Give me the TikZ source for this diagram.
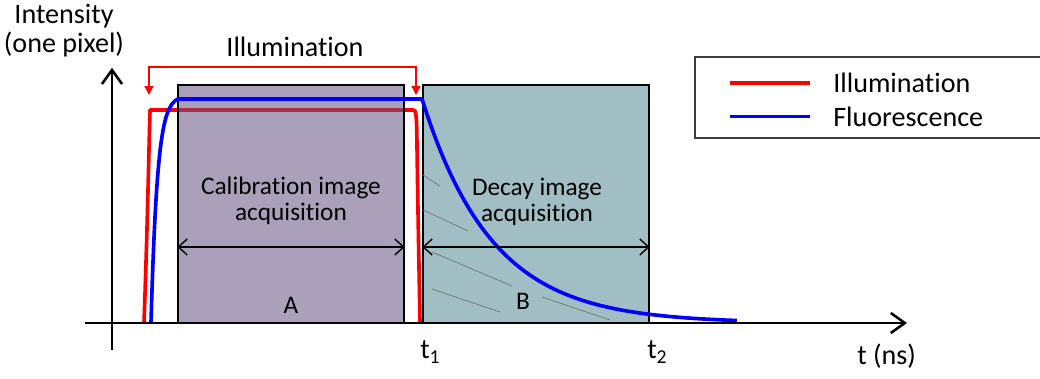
\documentclass[tikz,border=0pt]{standalone}
\usepackage{fontspec}
\setmainfont{Carlito}[Ligatures=NoCommon]
\usetikzlibrary{arrows.meta}
\definecolor{calibfill}{RGB}{102,82,128}
\definecolor{decayfill}{RGB}{161,190,196}
\definecolor{illumred}{RGB}{255,0,0}
\definecolor{fluoblue}{RGB}{0,0,255}
\definecolor{legframe}{RGB}{60,60,60}
\begin{document}
\begin{tikzpicture}[font=\fontsize{20}{19}\selectfont,
        acq/.style={draw=black, line width=0.9pt, minimum width=5.65cm,
                    minimum height=5.95cm, inner sep=0pt},
        illum/.style={draw=illumred, line width=2.6pt, line join=round},
        fluo/.style={draw=fluoblue, line width=2.6pt, line join=round},
        axis/.style={line width=1.8pt, -{Straight Barb[length=0.35cm,width=0.5cm]}},
        dim/.style={line width=1pt, {Straight Barb[length=0.22cm,width=0.4cm]}-{Straight Barb[length=0.22cm,width=0.4cm]}},
        bracket/.style={draw=illumred, line width=0.9pt, {Triangle[length=0.22cm,width=0.22cm]}-{Triangle[length=0.22cm,width=0.22cm]}},
        hatch/.style={draw=black!55, line width=0.5pt},
        lbl/.style={inner sep=0pt, align=center},
        boxlbl/.style={lbl, font=\fontsize{18}{18.5}\selectfont}]
      \useasboundingbox (0,0) rectangle (26,9.475);
      % Illumination (sous la fenetre A)
      \draw[illum] (3.6,1.4) .. controls (3.68,3.6) and (3.72,5.6) .. (3.75,6.725)
            -- (10.33,6.725) .. controls (10.4,6.725) and (10.41,6.6) .. (10.42,6.2)
            .. controls (10.45,4) and (10.48,2.6) .. (10.5,1.4);
      % Fenetres d'acquisition
      \node[acq, fill=calibfill, fill opacity=0.55] (calib) at (7.275,4.375) {};
      \node[acq, fill=decayfill] (decay) at (13.4,4.375) {};
      % Hachures
      \draw[hatch] (10.575,5.1) -- (11.0,4.825);
      \draw[hatch] (10.575,4.225) -- (11.7,3.7);
      \draw[hatch] (10.8,3.175) -- (12.8,2.325);
      \draw[hatch] (10.8,2.25) -- (12.5,1.675);
      \draw[hatch] (13.55,2.05) -- (15.25,1.475);
      % Fluorescence
      \draw[fluo] plot[domain=3.775:4.45, samples=30]
            (\x,{1.4+5.684*(1-exp(-(\x-3.775)/0.16))})
            -- (10.55,7.0)
            -- plot[domain=10.55:18.425, samples=80]
            (\x,{1.4+5.6*exp(-(\x-10.55)/1.75)});
      % Axes
      \coordinate (xstart) at (2.125,1.4);
      \coordinate (xend)   at (22.675,1.4);
      \coordinate (ystart) at (2.8,0.725);
      \coordinate (yend)   at (2.8,7.78);
      \draw[axis] (xstart) -- (xend);
      \draw[axis] (ystart) -- (yend);
      % Fleches de duree
      \foreach \n in {calib,decay}
        \draw[dim] ([yshift=-1.075cm]\n.west) -- ([yshift=-1.075cm]\n.east);
      % Labels
      \node[boxlbl] (calibtxt) at (7.275,4.45) {Calibration image\\acquisition};
      \node[boxlbl] (decaytxt) at (13.425,4.43) {Decay image\\acquisition};
      \node[boxlbl] (labA) at (7.275,1.85) {A};
      \node[boxlbl] (labB) at (13.075,1.95) {B};
      \node[lbl, font=\fontsize{20}{20.6}\selectfont] (ylabel) at (1.6,8.7)
            {Intensity\\(one pixel)};
      \node[lbl, anchor=base west] (t1) at (10.5,0.5) {t\textsubscript{1}};
      \node[lbl, anchor=base west] (t2) at (16.175,0.5) {t\textsubscript{2}};
      \node[lbl, anchor=base west] (xlabel) at (21.425,0.35) {t (ns)};
      % Duree d'illumination
      \node[lbl] (illumtxt) at (7.375,8.31) {Illumination};
      \coordinate (brL) at (3.725,7.1);
      \coordinate (brR) at (10.4,7.1);
      \draw[bracket] (brL) -- ++(0,0.7) -| (brR);
      % Legende
      \draw[draw=legframe, line width=1.2pt] (17.375,6.025) rectangle (26.3,8.05);
      \node[lbl, anchor=west] (lgillum) at (20.825,7.4) {Illumination};
      \node[lbl, anchor=west] (lgfluo)  at (20.825,6.56) {Fluorescence};
      \draw[illum] ([xshift=-0.575cm]lgillum.west) -- ++(-2,0);
      \draw[fluo]  ([xshift=-0.575cm]lgfluo.west) -- ++(-2,0);
    \end{tikzpicture}
\end{document}
